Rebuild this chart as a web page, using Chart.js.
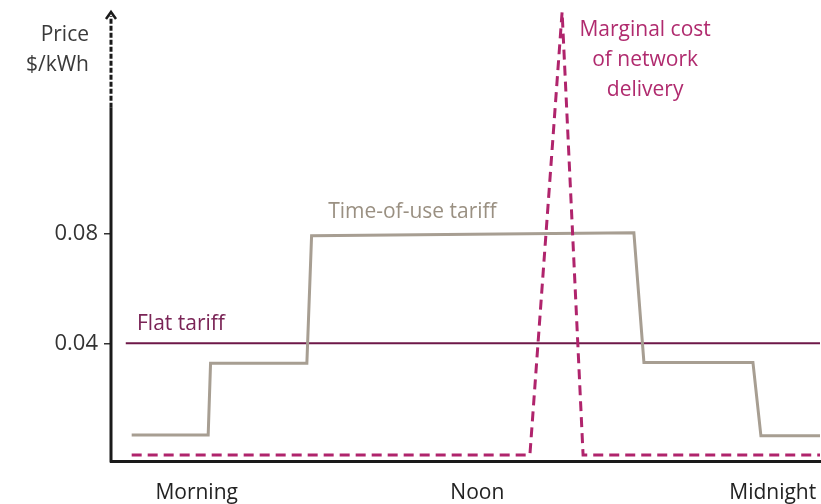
<!DOCTYPE html>
<html>
<head>
<meta charset="utf-8">
<script src="https://cdn.jsdelivr.net/npm/chart.js@4"></script>
<style>
  html, body { margin: 0; padding: 0; background: #fff; }
  #wrap { width: 821px; height: 504px; }
</style>
</head>
<body>
<div id="wrap"><canvas id="priceChart"></canvas></div>
<script>
// hours of the day on x, $/kWh on y
var flatHours = [0.5, 24];
var flatPrice = [0.04, 0.04];

var touHours = [0.7, 3.29, 3.37, 6.63, 6.79, 17.7, 18.04, 21.73, 22.0, 24];
var touPrice = [0.0065, 0.0065, 0.0327, 0.0327, 0.0793, 0.0804, 0.033, 0.033, 0.0062, 0.0062];

var marginalHours = [0.7, 14.18, 15.27, 15.98, 24];
var marginalPrice = [-0.0008, -0.0008, 0.161, -0.0008, -0.0008];

var xTickPositions = [2.9, 12.4, 22.4];
var xTickLabels = ['Morning', 'Noon', 'Midnight'];
var yTickValues = [0.04, 0.08];

function toPoints(xs, ys) {
     return xs.map(function(x, i) { return {x: x, y: ys[i]}; });
}

var FONT = '"Open Sans", Lato, sans-serif';

var annotations = {
     id: 'annotations',
     afterDraw: function(chart) {
          var ctx = chart.ctx;
          var x = chart.scales.x, y = chart.scales.y;
          var area = chart.chartArea;
          ctx.save();

          // y axis: solid lower part, dashed upper part, arrow head
          var axX = area.left;
          var solidTop = y.getPixelForValue(0.126);
          ctx.strokeStyle = '#1a1a1a';
          ctx.lineWidth = 3;
          ctx.beginPath();
          ctx.moveTo(axX, area.bottom + 1.5);
          ctx.lineTo(axX, solidTop);
          ctx.stroke();
          ctx.setLineDash([5, 2]);
          ctx.beginPath();
          ctx.moveTo(axX, solidTop);
          ctx.lineTo(axX, area.top + 4);
          ctx.stroke();
          ctx.setLineDash([]);
          ctx.lineWidth = 2.5;
          ctx.beginPath();
          ctx.moveTo(axX - 5, area.top + 7);
          ctx.lineTo(axX, area.top);
          ctx.lineTo(axX + 5, area.top + 7);
          ctx.stroke();

          ctx.textBaseline = 'middle';
          ctx.font = '21px ' + FONT;

          ctx.fillStyle = '#3a3a3a';
          ctx.textAlign = 'right';
          ctx.fillText('Price', axX - 22, 35);
          ctx.fillText('$/kWh', axX - 22, 65);

          ctx.textAlign = 'left';
          ctx.fillStyle = '#7a2456';
          ctx.fillText('Flat tariff', x.getPixelForValue(0.88), y.getPixelForValue(0.0469));

          ctx.fillStyle = '#9a9082';
          ctx.fillText('Time-of-use tariff', x.getPixelForValue(7.35), y.getPixelForValue(0.0878));

          ctx.textAlign = 'center';
          ctx.fillStyle = '#b02a6e';
          var cx = x.getPixelForValue(18.08);
          ctx.fillText('Marginal cost', cx, y.getPixelForValue(0.1545));
          ctx.fillText('of network', cx, y.getPixelForValue(0.1435));
          ctx.fillText('delivery', cx, y.getPixelForValue(0.1326));
          ctx.restore();
     }
};

new Chart('priceChart', {
     type: 'line',
     data: {
          datasets: [
               {
                    label: 'Marginal cost of network delivery',
                    data: toPoints(marginalHours, marginalPrice),
                    borderColor: '#b0246c',
                    borderWidth: 3,
                    borderDash: [10, 6],
                    pointRadius: 0,
                    tension: 0,
                    fill: false
               },
               {
                    label: 'Time-of-use tariff',
                    data: toPoints(touHours, touPrice),
                    borderColor: '#a79e92',
                    borderWidth: 3,
                    pointRadius: 0,
                    tension: 0,
                    fill: false
               },
               {
                    label: 'Flat tariff',
                    data: toPoints(flatHours, flatPrice),
                    borderColor: '#6e1848',
                    borderWidth: 2,
                    pointRadius: 0,
                    tension: 0,
                    fill: false
               }
          ]
     },
     options: {
          responsive: true,
          maintainAspectRatio: false,
          animation: false,
          clip: false,
          layout: { padding: { top: 12, right: 1, left: 0, bottom: 0 } },
          plugins: {
               legend: { display: false },
               tooltip: { enabled: false }
          },
          scales: {
               x: {
                    type: 'linear',
                    min: 0,
                    max: 24,
                    afterBuildTicks: function(scale) {
                         scale.ticks = xTickPositions.map(function(v) { return {value: v}; });
                    },
                    afterFit: function(scale) {
                         scale.height = 43;
                         scale.paddingLeft = 0;
                         scale.paddingRight = 0;
                    },
                    ticks: {
                         autoSkip: false,
                         maxRotation: 0,
                         padding: 19,
                         color: '#222',
                         font: { family: FONT, size: 21 },
                         callback: function(value, index) { return xTickLabels[index]; }
                    },
                    grid: { display: false, drawTicks: false },
                    border: { display: true, color: '#1a1a1a', width: 3 }
               },
               y: {
                    min: -0.003,
                    max: 0.161,
                    afterBuildTicks: function(scale) {
                         scale.ticks = yTickValues.map(function(v) { return {value: v}; });
                    },
                    afterFit: function(scale) {
                         scale.width = 111;
                         scale.paddingTop = 0;
                         scale.paddingBottom = 0;
                    },
                    ticks: {
                         padding: 6,
                         color: '#333',
                         font: { family: FONT, size: 22 },
                         callback: function(value) { return value.toFixed(2); }
                    },
                    grid: {
                         drawOnChartArea: false,
                         drawTicks: true,
                         tickLength: 7,
                         color: '#333',
                         lineWidth: 1.5
                    },
                    border: { display: false }
               }
          }
     },
     plugins: [annotations]
});
</script>
</body>
</html>
